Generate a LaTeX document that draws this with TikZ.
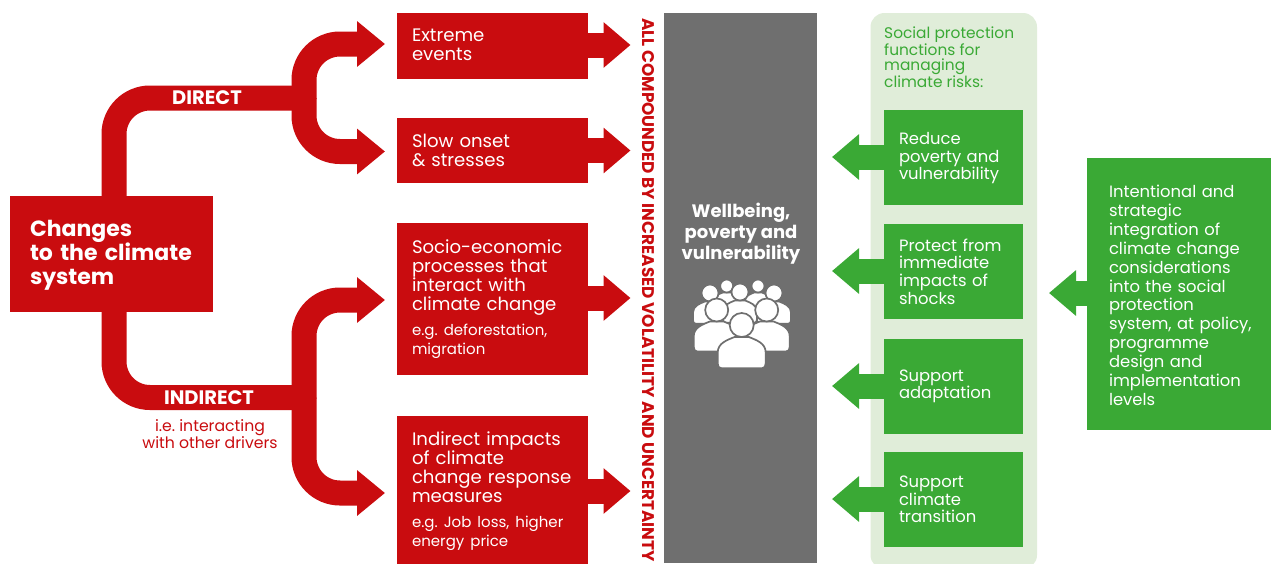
\documentclass[tikz,border=0pt]{standalone}
\usepackage{fontspec}
\setmainfont{Poppins}
\usetikzlibrary{arrows.meta}
\definecolor{rd}{HTML}{C90C0F}
\definecolor{gn}{HTML}{3AA935}
\definecolor{lgn}{HTML}{E0EDD9}
\definecolor{gry}{HTML}{6F6F6F}
\newcommand{\fs}[2]{\fontsize{#1}{#2}\selectfont}
\newcommand{\up}[1]{\rule{0pt}{#1pt}}
\frenchspacing
\tikzset{
  box/.style={inner sep=0pt,outer sep=0pt,align=left,text=white,anchor=north west},
  redbox/.style={box,fill=rd,minimum width=191pt,text width=161pt,font=\fs{18.1}{19}},
  greenbox/.style={box,fill=gn,minimum width=139pt,minimum height=95pt,text width=109pt,font=\fs{16.4}{17.6}},
  flow/.style={draw=rd,line width=25pt,rounded corners=36pt},
  flowtip/.style={flow,-{Triangle[length=28pt,width=44pt]}},
  stub/.style={line width=25pt,-{Triangle[length=27pt,width=44pt]}},
  person/.pic={
    \path[fill=white,draw=gry,line width=1.7pt]
      (-1.7,3.6) .. controls (-1.9,3.6) and (-2,3.45) .. (-2,3.2) -- (-2,2.3)
      .. controls (-2,1.5) and (-1.2,1.25) .. (-.6,1) -- (.6,1)
      .. controls (1.2,1.25) and (2,1.5) .. (2,2.3) -- (2,3.2)
      .. controls (2,3.45) and (1.9,3.6) .. (1.7,3.6) -- cycle;
    \path[fill=white,draw=gry,line width=1.7pt] (0,0) circle (1);
  }
}
\begin{document}
\begin{tikzpicture}[x=1pt,y=-1pt]
\useasboundingbox (0,0) rectangle (1271,563);
\fill[white] (0,0) rectangle (1271,563);
% panels
\fill[lgn,rounded corners=14pt] (870.5,13) rectangle (1037,569);
\fill[gry] (664,13) rectangle (817,563);
% source box
\node[box,fill=rd,minimum width=203pt,minimum height=116pt,text width=163pt,font=\fs{22}{24}\bfseries] (changes) at (10,196) {\up{18.5}Changes\\to the climate\\system};
% red boxes
\node[redbox,minimum height=65.5pt] (extreme) at (397,13) {Extreme\\events\rule[-2pt]{0pt}{2pt}};
\node[redbox,minimum height=65pt] (slow) at (397,118) {Slow onset\\\&\ stresses};
\node[redbox,minimum height=152pt] (socio) at (397,223) {Socio-economic\\processes that\\interact with\\climate change\\[8pt]\fs{15}{17}e.g. deforestation,\\migration};
\node[redbox,minimum height=151pt] (indirect) at (397,416) {Indirect impacts\\of climate\\\mbox{change response}\\measures\\[8pt]\fs{15}{17}e.g. Job loss, higher\\energy price};
% green boxes
\node[greenbox] (reduce) at (884,110) {\up{14}Reduce\\poverty and\\vulnerability};
\node[greenbox] (protect) at (884,224) {Protect from\\immediate\\impacts of\\shocks};
\node[greenbox] (adapt) at (884,339) {Support\\adaptation};
\node[greenbox] (transition) at (884,452) {Support\\climate\\transition};
\node[box,fill=gn,minimum width=188pt,minimum height=272pt,text width=144pt,font=\fs{16.4}{18.85}] (integration) at (1087,158)
 {\up{15}Intentional and\\strategic\\integration of\\climate change\\considerations\\into the social\\protection\\system, at policy,\\programme\\design and\\implementation\\levels};
% coordinates
\coordinate (dirC) at (114,98);
\coordinate (dirS) at (304,98);
\coordinate (dirU) at (304,44);
\coordinate (dirD) at (304,151.5);
\coordinate (indC) at (114,397.5);
\coordinate (indS) at (304,397.5);
\coordinate (indU) at (304,300);
\coordinate (indD) at (304,493);
\coordinate (tipA) at (385,44);
\coordinate (tipB) at (385,151.5);
\coordinate (tipC) at (385,300);
\coordinate (tipD) at (385,493);
% branching connectors
\draw[flow] (dirC |- changes.north) -- (dirC) -- (dirS);
\draw[flow] (dirC |- changes.south) -- (indC) -- (indS);
\draw[flowtip] (dirS) ++(0,1) -- (dirU) -- (tipA);
\draw[flowtip] (dirS) -- (dirD) -- (tipB);
\draw[flowtip] (indS) ++(0,1) -- (indU) -- (tipC);
\draw[flowtip] (indS) -- (indD) -- (tipD);
% short arrows to the grey bar
\foreach \n/\yy in {extreme/45,slow/150.5,socio/298,indirect/491}
  \draw[stub,draw=rd] (\n.east |- 0,\yy) -- (630.5,\yy);
% short arrows from green boxes
\foreach \n/\yy in {reduce/157,protect/271,adapt/386,transition/499}
  \draw[stub,draw=gn] (\n.west |- 0,\yy) -- (832,\yy);
\draw[stub,draw=gn] (integration.west |- 0,293) -- (1049,293);
% labels
\node[text=white,font=\fs{19.5}{20}\bfseries] (ldirect) at (207,98) {DIRECT};
\node[text=white,font=\fs{19.5}{20}\bfseries] (lindirect) at (209,398) {INDIRECT};
\node[text=rd,align=center,font=\fs{15.7}{15}] (lnote) at (210,434) {i.e. interacting\\with other drivers};
\node[text=rd,rotate=-90,font=\fs{16.9}{17}\bfseries] (lall) at (648,290) {ALL COMPOUNDED BY INCREASED VOLATILITY AND UNCERTAINTY};
\node[text=gn,align=left,anchor=north west,inner sep=0pt,font=\fs{15.4}{15.6}] (lfunc) at (884,26.5) {Social protection\\functions for\\managing\\climate risks:};
\node[text=white,align=center,font=\fs{18}{21}\bfseries] (lwell) at (741,234) {Wellbeing,\\poverty and\\vulnerability};
% people icon
\pic[scale=6.5] at (726.7,286) {person};
\pic[scale=6.5] at (758,286) {person};
\pic[scale=8.5] at (710,293) {person};
\pic[scale=8.5] at (774,293) {person};
\pic[scale=8.5] at (740,292) {person};
\pic[scale=11.5] at (716.7,310) {person};
\pic[scale=11.5] at (766.7,310) {person};
\pic[scale=12] at (741.7,325) {person};
\end{tikzpicture}
\end{document}
